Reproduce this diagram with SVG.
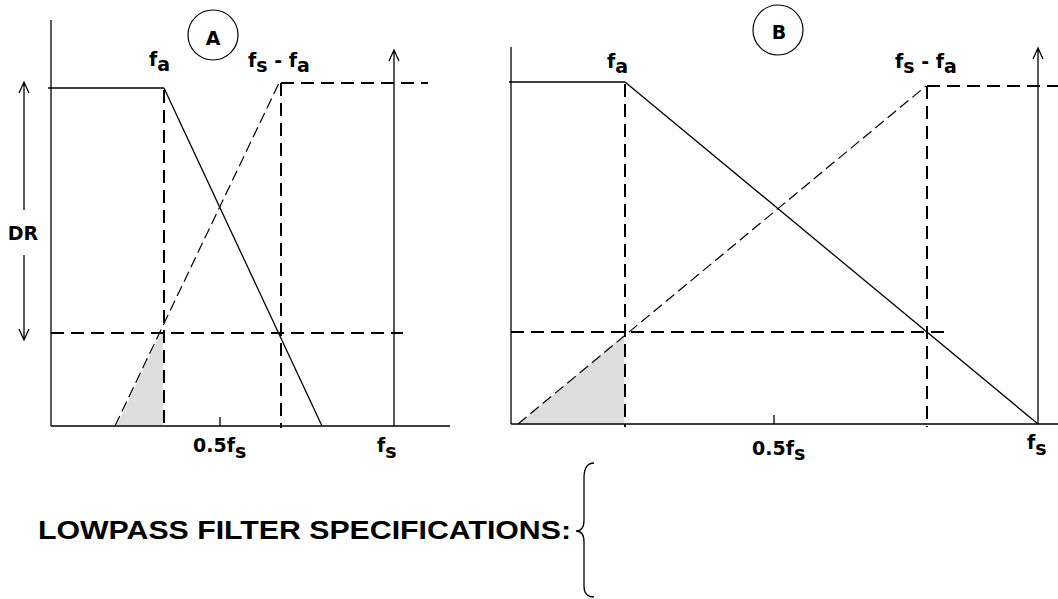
<svg xmlns="http://www.w3.org/2000/svg" width="1058" height="599" viewBox="0 0 1058 599">
<style>
.ax{stroke:#000;stroke-width:1.3;fill:none}
.sl{stroke:#000;stroke-width:1.3;fill:none}
.dh{stroke:#000;stroke-width:2;fill:none;stroke-dasharray:13 7}
.dd{stroke:#000;stroke-width:1.2;fill:none;stroke-dasharray:11 5}
.sh{fill:#dddddd;stroke:none}
.t{font-family:"DejaVu Sans","Liberation Sans",Arial,sans-serif;font-weight:bold;font-size:19px;fill:#000}
.tt{font-family:"Liberation Sans",Arial,sans-serif;font-weight:bold;font-size:25px;fill:#000}
.circ{stroke:#000;stroke-width:1.2;fill:none}
</style>
<rect width="1058" height="599" fill="#fff"/>
<g id="panelA">
  <polygon class="sh" points="117,425 160,334 163,334 163,425"/>
  <line class="ax" x1="51" y1="20" x2="51" y2="426"/>
  <line class="ax" x1="51" y1="426" x2="450" y2="426"/>
  <line class="ax" x1="220" y1="417" x2="220" y2="426"/>
  <line class="sl" x1="48" y1="88" x2="164" y2="88"/>
  <line class="sl" x1="164" y1="88" x2="322" y2="426"/>
  <line class="dd" x1="115" y1="426" x2="279" y2="83"/>
  <line class="dh" x1="164" y1="90" x2="164" y2="426"/>
  <line class="dh" x1="281" y1="83" x2="281" y2="428"/>
  <line class="dh" x1="281" y1="83" x2="428" y2="83"/>
  <line class="dh" x1="51" y1="333" x2="403" y2="333"/>
  <circle class="circ" cx="213" cy="35" r="25"/>
  <text class="t" x="213" y="45" text-anchor="middle">A</text>
  <text class="t" x="149" y="66">f<tspan dy="5">a</tspan></text>
  <text class="t" x="248" y="67">f<tspan dy="5">s</tspan><tspan dy="-5"> - f</tspan><tspan dy="5">a</tspan></text>
  <text class="t" x="193" y="452">0.5f<tspan dy="6">s</tspan></text>
  <text class="t" x="377" y="452">f<tspan dy="6">s</tspan></text>
  <text class="t" x="23" y="240" text-anchor="middle">DR</text>
</g>
<g id="panelB">
  <polygon class="sh" points="519,424 623,336 624,336 624,424"/>
  <line class="ax" x1="511" y1="47" x2="511" y2="424"/>
  <line class="ax" x1="511" y1="424" x2="1058" y2="424"/>
  <line class="ax" x1="774" y1="415" x2="774" y2="424"/>
  <line class="sl" x1="509" y1="82" x2="625" y2="82"/>
  <line class="sl" x1="625" y1="82" x2="1038" y2="424"/>
  <line class="dd" x1="518" y1="424" x2="926" y2="86"/>
  <line class="dh" x1="625" y1="84" x2="625" y2="427"/>
  <line class="dh" x1="927" y1="86" x2="927" y2="427"/>
  <line class="dh" x1="927" y1="86" x2="1058" y2="86"/>
  <line class="dh" x1="511" y1="332" x2="950" y2="332"/>
  <circle class="circ" cx="778" cy="30" r="25"/>
  <text class="t" x="779" y="39" text-anchor="middle">B</text>
  <text class="t" x="607" y="68">f<tspan dy="5">a</tspan></text>
  <text class="t" x="895" y="68">f<tspan dy="5">s</tspan><tspan dy="-5"> - f</tspan><tspan dy="5">a</tspan></text>
  <text class="t" x="752" y="455">0.5f<tspan dy="5">s</tspan></text>
  <text class="t" x="1027" y="449">f<tspan dy="6">s</tspan></text>
</g>
<g id="connectors">
  <path class="ax" d="M394,426 V50 M389,61 L394,50 L399,61"/>
  <path class="ax" d="M1038,424 V48 M1033,59 L1038,48 L1043,59"/>
  <path class="ax" d="M24,82 V210 M19,93 L24,82 L29,93"/>
  <path class="ax" d="M24,255 V340 M19,329 L24,340 L29,329"/>
</g>
<g id="title">
  <text class="tt" x="38" y="539" textLength="533" lengthAdjust="spacingAndGlyphs">LOWPASS FILTER  SPECIFICATIONS:</text>
</g>
<g id="brace">
  <path class="sl" d="M594,463 C587,463 584,468 584,478 L584,520 C584,527 581,531 576,531 C581,531 584,535 584,542 L584,586 C584,593 587,597 594,597"/>
</g>
</svg>
